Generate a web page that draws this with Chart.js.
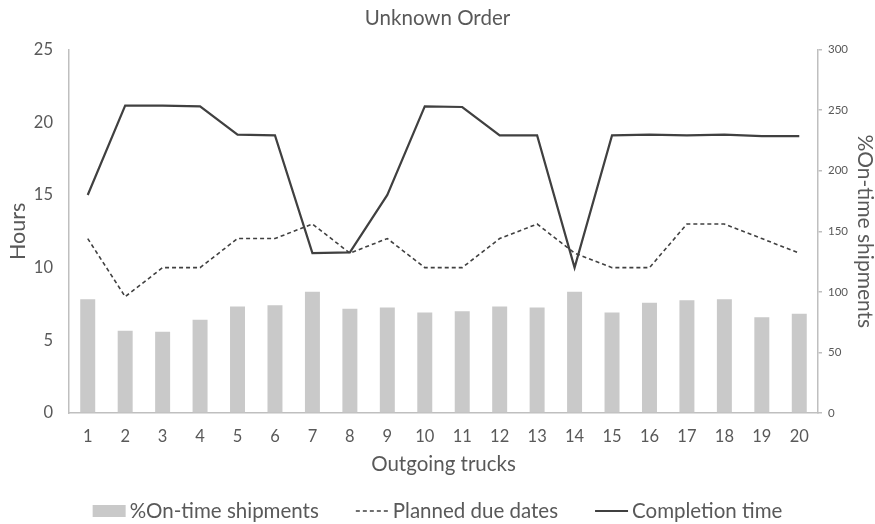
<!DOCTYPE html>
<html>
<head>
<meta charset="utf-8">
<script src="https://cdn.jsdelivr.net/npm/chart.js@4"></script>
<style>
  html, body { margin: 0; padding: 0; background: #ffffff; }
  #wrap { width: 875px; height: 524px; position: relative; }
</style>
</head>
<body>
<div id="wrap"><canvas id="chart" width="875" height="524"></canvas></div>
<script>
// Truck numbers along the x axis
const trucks = ['1','2','3','4','5','6','7','8','9','10','11','12','13','14','15','16','17','18','19','20'];

// Share of shipments on time per truck (%), right axis
const onTimePct = [94, 68, 67, 77, 88, 89, 100, 86, 87, 83, 84, 88, 87, 100, 83, 91, 93, 94, 79, 82];

// Planned due date per truck (hours), left axis
const plannedDue = [12, 8, 10, 10, 12, 12, 13, 11, 12, 10, 10, 12, 13, 11, 10, 10, 13, 13, 12, 11];

// Actual completion time per truck (hours), left axis
const completion = [15, 21.15, 21.15, 21.1, 19.15, 19.1, 11, 11.05, 15, 21.1, 21.05, 19.1, 19.1, 10, 19.1, 19.15, 19.1, 19.15, 19.05, 19.05];

const FONT = "Lato, 'Open Sans', sans-serif";
const TEXT = '#595959';
const AXIS = '#bfbfbf';
const INK = '#404040';
const BAR = '#c9c9c9';

// Legend drawn under the x axis title
const bottomLegend = {
  id: 'bottomLegend',
  afterDraw(chart) {
    const ctx = chart.ctx;
    const items = chart.data.datasets.map(ds => ({
      text: ds.label, type: ds.type, color: ds.type === 'bar' ? ds.backgroundColor : ds.borderColor,
      dash: ds.borderDash || [], width: ds.borderWidth
    }));
    ctx.save();
    ctx.font = "20.5px " + FONT;
    const sample = 33, gap = 4, between = 37;
    const widths = items.map(it => ctx.measureText(it.text).width);
    const total = widths.reduce((a, w) => a + sample + gap + w, 0) + between * (items.length - 1);
    let x = chart.width / 2 - total / 2;
    const y = 511;
    items.forEach((it, i) => {
      if (it.type === 'bar') {
        ctx.fillStyle = it.color;
        ctx.fillRect(x, y - 6, sample, 12);
      } else {
        ctx.strokeStyle = it.color;
        ctx.lineWidth = it.width;
        ctx.setLineDash(it.dash);
        ctx.beginPath();
        ctx.moveTo(x, y);
        ctx.lineTo(x + sample, y);
        ctx.stroke();
        ctx.setLineDash([]);
      }
      ctx.fillStyle = TEXT;
      ctx.textBaseline = 'middle';
      ctx.textAlign = 'left';
      ctx.fillText(it.text, x + sample + gap, y);
      x += sample + gap + widths[i] + between;
    });
    ctx.restore();
  }
};

new Chart(document.getElementById('chart'), {
  data: {
    labels: trucks,
    datasets: [
      {
        type: 'bar', label: '%On-time shipments', data: onTimePct, yAxisID: 'y2',
        backgroundColor: BAR, borderWidth: 0, barPercentage: 0.4, categoryPercentage: 1, order: 3
      },
      {
        type: 'line', label: 'Planned due dates', data: plannedDue, yAxisID: 'y',
        borderColor: INK, borderWidth: 1.6, borderDash: [4, 3], pointRadius: 0, tension: 0, order: 2
      },
      {
        type: 'line', label: 'Completion time', data: completion, yAxisID: 'y',
        borderColor: INK, borderWidth: 2.2, pointRadius: 0, tension: 0, order: 1
      }
    ]
  },
  options: {
    responsive: false,
    animation: false,
    layout: { padding: { top: 0, left: 0, right: 0, bottom: 47 } },
    plugins: {
      legend: { display: false },
      tooltip: { enabled: false },
      title: {
        display: true, text: 'Unknown Order', color: TEXT,
        font: { family: FONT, size: 20.5, weight: 'normal', lineHeight: 1.2 },
        padding: { top: 6, bottom: 19 }
      }
    },
    scales: {
      x: {
        offset: true,
        grid: { display: false, drawTicks: false },
        border: { display: true, color: AXIS, width: 1.5 },
        ticks: { color: TEXT, font: { family: FONT, size: 16.5 }, padding: 14, maxRotation: 0 },
        title: { display: true, text: 'Outgoing trucks', color: TEXT, font: { family: FONT, size: 20.5, lineHeight: 1.2 }, padding: 0 },
        afterFit(scale) { scale.height = 64; }
      },
      y: {
        position: 'left', min: 0, max: 25,
        grid: { display: false, drawTicks: false },
        border: { display: true, color: AXIS, width: 1.5 },
        ticks: { stepSize: 5, color: TEXT, font: { family: FONT, size: 16.5 }, padding: 16 },
        title: { display: true, text: 'Hours', color: TEXT, font: { family: FONT, size: 21.5, lineHeight: 1.2 }, padding: { top: 5 } },
        afterFit(scale) { scale.width = 69; }
      },
      y2: {
        position: 'right', min: 0, max: 300,
        grid: { drawOnChartArea: false, drawTicks: true, tickLength: 4, color: AXIS, lineWidth: 1.5 },
        border: { display: true, color: AXIS, width: 1.5 },
        ticks: { stepSize: 50, color: TEXT, font: { family: FONT, size: 11.5 }, padding: 6 },
        title: { display: true, text: '%On-time shipments', color: TEXT, font: { family: FONT, size: 21, lineHeight: 1 }, padding: { top: 0 } },
        afterFit(scale) { scale.width = 57; }
      }
    }
  },
  plugins: [bottomLegend]
});
</script>
</body>
</html>
